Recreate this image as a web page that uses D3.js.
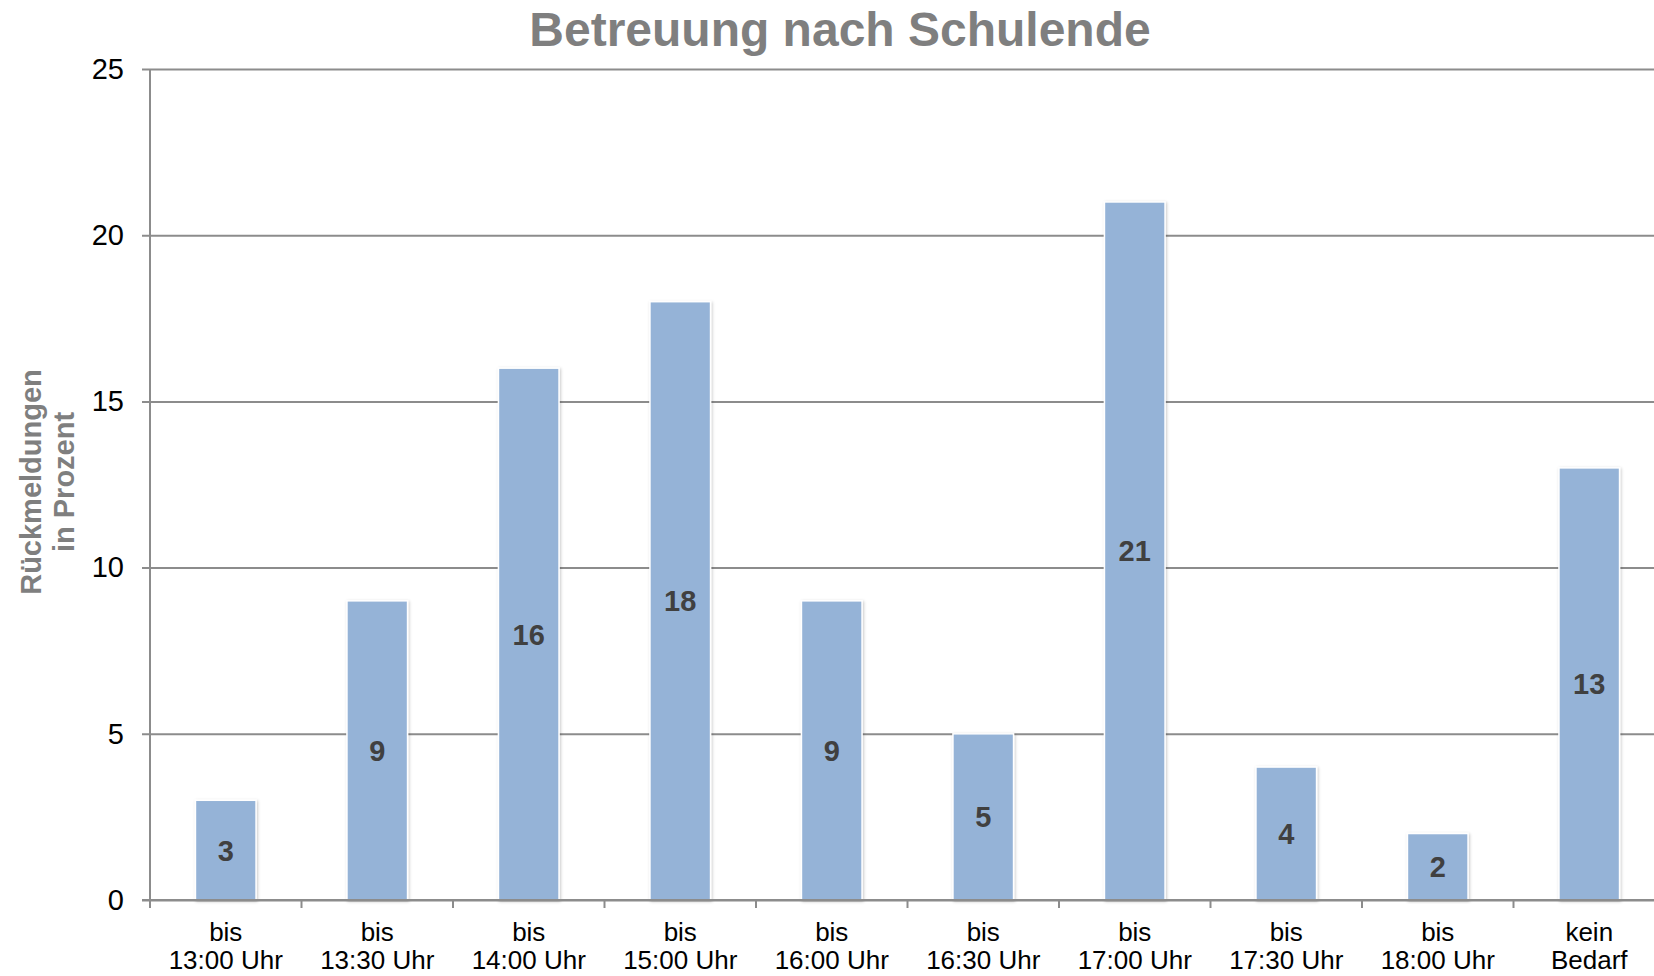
<!DOCTYPE html>
<html>
<head>
<meta charset="utf-8">
<script src="https://cdn.jsdelivr.net/npm/d3@7"></script>
<style>
  body { margin: 0; background: #fff; }
  svg { display: block; font-family: "Liberation Sans", Arial, sans-serif; }
</style>
</head>
<body>
<svg id="chart"></svg>
<script>
let kCanvas = { "w": 1654, "h": 976 };

// plot area, right end runs past the picture edge like in the original
let kChart = { "x": 150, "y": 69, "w": 1515, "h": 831 };

let kColors = {
  "bar": "#95b3d7",
  "grid": "#8c8c8c",
  "title": "#7f7f7f",
  "label": "#404040"
};

let categories = ["bis 13:00 Uhr", "bis 13:30 Uhr", "bis 14:00 Uhr", "bis 15:00 Uhr", "bis 16:00 Uhr",
                  "bis 16:30 Uhr", "bis 17:00 Uhr", "bis 17:30 Uhr", "bis 18:00 Uhr", "kein Bedarf"];
let values = [3, 9, 16, 18, 9, 5, 21, 4, 2, 13];
let yTicks = [0, 5, 10, 15, 20, 25];
let VALUE_MAX = 25;

let svg = d3.select("#chart")
    .attr("width", kCanvas.w)
    .attr("height", kCanvas.h);

let x = d3.scaleBand()
    .domain(categories)
    .range([kChart.x, kChart.x + kChart.w])
    .paddingInner(0.6)
    .paddingOuter(0.3);

let y = d3.scaleLinear()
    .domain([0, VALUE_MAX])
    .range([kChart.y + kChart.h, kChart.y]);


function drawTitle(){
  svg.append("text")
    .attr("x", 840)
    .attr("y", 46)
    .attr("text-anchor", "middle")
    .attr("font-size", 48)
    .attr("font-weight", "bold")
    .attr("fill", kColors.title)
    .text("Betreuung nach Schulende");
}


function drawYAxis(){
  let g = svg.append("g")
    .attr("transform", "translate(" + kChart.x + ",0)")
    .call(d3.axisLeft(y)
      .tickValues(yTicks)
      .tickSizeInner(-(kCanvas.w - kChart.x))
      .tickSizeOuter(0)
      .tickPadding(26));

  g.select(".domain").remove();
  g.selectAll(".tick line")
    .attr("x1", -8)
    .attr("stroke", kColors.grid)
    .attr("stroke-width", 2);
  g.selectAll(".tick text")
    .attr("font-size", 29)
    .attr("fill", "#000")
    .attr("font-family", "Liberation Sans, Arial, sans-serif");

  // vertical axis line
  svg.append("line")
    .attr("x1", kChart.x).attr("x2", kChart.x)
    .attr("y1", y(VALUE_MAX)).attr("y2", y(0))
    .attr("stroke", kColors.grid)
    .attr("stroke-width", 2);

  // axis title, two lines
  let title = svg.append("text")
    .attr("transform", "translate(0,482) rotate(-90)")
    .attr("text-anchor", "middle")
    .attr("font-size", 29)
    .attr("font-weight", "bold")
    .attr("fill", kColors.title);
  title.append("tspan").attr("x", 0).attr("y", 41).text("Rückmeldungen");
  title.append("tspan").attr("x", 0).attr("y", 74).text("in Prozent");
}


function drawXAxis(){
  let by = y(0);

  // category boundary ticks
  let bounds = categories.map(function(c){ return x(c) + x.bandwidth() / 2 - x.step() / 2; });
  bounds.push(kChart.x + kChart.w);
  svg.selectAll(".xtick")
    .data(bounds)
    .enter()
    .append("line")
    .attr("class", "xtick")
    .attr("x1", function(d){ return d; })
    .attr("x2", function(d){ return d; })
    .attr("y1", by)
    .attr("y2", by + 8)
    .attr("stroke", kColors.grid)
    .attr("stroke-width", 2);

  // two line labels
  let labels = svg.selectAll(".xlabel")
    .data(categories)
    .enter()
    .append("text")
    .attr("class", "xlabel")
    .attr("text-anchor", "middle")
    .attr("font-size", 26)
    .attr("fill", "#000");

  labels.each(function(c){
    let i = c.indexOf(" ");
    let cx = x(c) + x.bandwidth() / 2;
    d3.select(this).append("tspan").attr("x", cx).attr("y", by + 41).text(c.slice(0, i));
    d3.select(this).append("tspan").attr("x", cx).attr("y", by + 69).text(c.slice(i + 1));
  });
}


function drawBars(){
  let defs = svg.append("defs");
  defs.append("filter")
    .attr("id", "shadow")
    .attr("x", "-20%").attr("y", "-5%")
    .attr("width", "140%").attr("height", "110%")
    .append("feDropShadow")
    .attr("dx", 1).attr("dy", 1)
    .attr("stdDeviation", 1.5)
    .attr("flood-color", "#000")
    .attr("flood-opacity", 0.22);

  svg.selectAll(".bar")
    .data(values)
    .enter()
    .append("rect")
    .attr("class", "bar")
    .attr("x", function(d, i){ return x(categories[i]); })
    .attr("y", function(d){ return y(d); })
    .attr("width", x.bandwidth())
    .attr("height", function(d){ return y(0) - y(d); })
    .attr("fill", kColors.bar)
    .attr("stroke", "#fff")
    .attr("stroke-width", 1.5)
    .attr("filter", "url(#shadow)");

  svg.selectAll(".value")
    .data(values)
    .enter()
    .append("text")
    .attr("class", "value")
    .attr("x", function(d, i){ return x(categories[i]) + x.bandwidth() / 2; })
    .attr("y", function(d){ return (y(d) + y(0)) / 2; })
    .attr("dy", "0.36em")
    .attr("text-anchor", "middle")
    .attr("font-size", 29)
    .attr("font-weight", "bold")
    .attr("fill", kColors.label)
    .text(function(d){ return d; });
}


function drawBaseLine(){
  svg.append("line")
    .attr("x1", kChart.x - 8).attr("x2", kCanvas.w)
    .attr("y1", y(0)).attr("y2", y(0))
    .attr("stroke", kColors.grid)
    .attr("stroke-width", 2);
}


drawTitle();
drawYAxis();
drawBars();
drawXAxis();
drawBaseLine();
</script>
</body>
</html>
